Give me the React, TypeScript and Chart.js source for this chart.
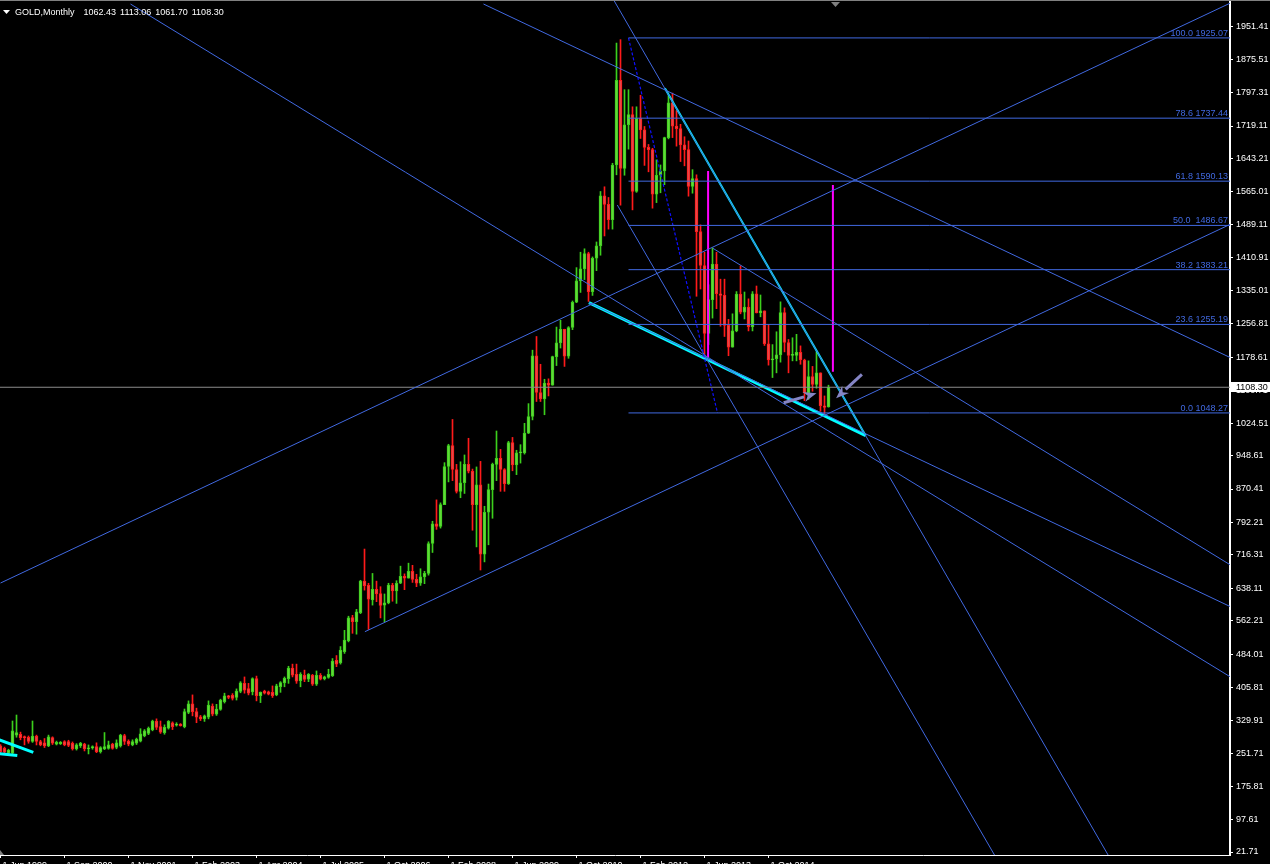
import React, { useEffect, useRef } from "react";
import { Chart, registerables } from "chart.js";

Chart.register(...registerables);

// ---------- data ----------
const symbolTitle = "GOLD,Monthly";

// [open, high, low, close] per monthly bar, bar index 0 = 1 Jun 1999
const candlesEarly: number[][] = [
  [270, 273, 252, 256], [264, 267, 252, 255], [253, 262, 250, 260], [253, 328, 251, 305],
  [295, 342, 290, 301], [297, 302, 284, 289], [291, 293, 272, 289], [290, 293, 276, 280],
  [280, 328, 278, 293], [293, 295, 272, 280], [280, 283, 270, 272], [277, 287, 266, 270],
  [270, 295, 268, 291], [289, 291, 273, 276], [274, 281, 272, 278], [275, 280, 273, 278],
  [280, 282, 270, 272], [280, 283, 268, 271], [276, 279, 260, 263], [263, 275, 260, 272],
  [270, 278, 266, 276], [274, 276, 258, 263], [263, 272, 251, 265], [265, 270, 262, 268],
  [268, 277, 254, 256], [256, 268, 253, 266], [263, 301, 261, 268], [264, 281, 262, 272],
  [274, 276, 262, 264], [266, 284, 263, 277], [270, 297, 267, 295], [294, 297, 273, 280],
  [281, 284, 270, 274], [272, 284, 270, 280], [276, 288, 273, 285], [281, 310, 279, 298],
  [293, 308, 291, 305], [299, 314, 296, 311], [307, 330, 305, 328], [328, 333, 308, 313],
  [315, 328, 299, 302], [301, 319, 297, 313], [311, 329, 309, 327], [324, 326, 308, 315],
  [318, 324, 316, 321], [321, 322, 316, 317], [315, 356, 312, 350], [348, 375, 345, 368],
  [368, 389, 340, 350], [350, 358, 324, 337], [338, 341, 329, 333], [333, 342, 327, 340],
  [337, 375, 333, 365], [363, 368, 340, 344], [344, 367, 341, 356], [355, 379, 353, 377],
  [373, 393, 370, 387], [387, 388, 380, 383], [388, 392, 377, 381], [383, 403, 377, 398],
  [397, 420, 394, 417], [416, 431, 393, 400], [404, 416, 389, 393], [396, 429, 389, 427],
  [427, 433, 375, 387], [387, 396, 371, 395], [398, 400, 391, 393], [396, 398, 389, 391],
  [395, 410, 383, 387], [389, 414, 387, 410], [408, 420, 395, 418], [417, 431, 408, 428],
  [427, 456, 416, 452], [452, 461, 431, 435], [437, 461, 416, 421], [422, 441, 408, 437],
  [435, 447, 420, 425], [426, 439, 420, 437], [435, 437, 411, 414], [414, 445, 411, 435],
  [435, 439, 424, 426], [427, 433, 424, 431], [430, 449, 428, 437], [434, 474, 432, 468],
  [470, 481, 455, 461], [464, 502, 461, 494], [490, 540, 486, 517], [516, 573, 513, 569],
  [570, 575, 533, 560], [560, 589, 531, 583], [581, 657, 579, 655], [655, 730, 634, 644],
  [645, 650, 542, 613], [611, 673, 599, 636], [636, 655, 607, 625], [626, 642, 569, 598],
];

// Oct 2006 .. Jan 2016
const candlesLate: number[][] = [
  [599, 625, 560, 604], [604, 650, 602, 646], [646, 650, 608, 632],
  [632, 656, 603, 650], [650, 690, 649, 666], [666, 672, 635, 662], [662, 697, 662, 678],
  [678, 692, 652, 659], [659, 671, 642, 650], [650, 684, 645, 665], [665, 678, 649, 673],
  [673, 747, 669, 743], [743, 795, 722, 789], [789, 845, 776, 783], [783, 838, 779, 834],
  [834, 932, 834, 923], [923, 975, 887, 972], [972, 1033, 890, 916], [916, 928, 861, 865],
  [865, 934, 850, 885], [885, 950, 860, 928], [928, 989, 908, 912], [912, 917, 774, 834],
  [834, 922, 735, 880], [880, 935, 681, 718], [718, 830, 700, 816], [816, 882, 740, 869],
  [869, 931, 802, 928], [928, 1006, 890, 942], [942, 963, 865, 916], [916, 918, 865, 883],
  [883, 982, 881, 979], [979, 991, 913, 927], [927, 961, 904, 955], [955, 974, 931, 955],
  [955, 1024, 952, 1001], [1001, 1070, 1000, 1040], [1040, 1195, 1032, 1182], [1182, 1227, 1075, 1096],
  [1096, 1162, 1075, 1081], [1081, 1127, 1044, 1118], [1118, 1128, 1088, 1113], [1113, 1181, 1113, 1180],
  [1180, 1249, 1159, 1212], [1212, 1265, 1200, 1244], [1244, 1244, 1157, 1181], [1181, 1250, 1176, 1248],
  [1248, 1310, 1243, 1307], [1307, 1388, 1306, 1357], [1357, 1424, 1330, 1385], [1385, 1432, 1360, 1421],
  [1421, 1424, 1309, 1332], [1332, 1413, 1323, 1410], [1410, 1448, 1381, 1439], [1439, 1566, 1417, 1556],
  [1556, 1577, 1462, 1536], [1536, 1552, 1478, 1500], [1500, 1632, 1478, 1628], [1628, 1913, 1605, 1826],
  [1826, 1921, 1534, 1620], [1620, 1804, 1604, 1722], [1722, 1804, 1665, 1746], [1746, 1764, 1523, 1566],
  [1566, 1764, 1564, 1737], [1737, 1791, 1690, 1710], [1710, 1718, 1627, 1669], [1669, 1676, 1612, 1664],
  [1664, 1667, 1527, 1560], [1560, 1640, 1540, 1604], [1604, 1628, 1563, 1614], [1614, 1693, 1582, 1692],
  [1692, 1790, 1689, 1773], [1773, 1796, 1692, 1719], [1719, 1755, 1672, 1713], [1713, 1723, 1636, 1675],
  [1675, 1694, 1626, 1664], [1664, 1684, 1555, 1578], [1578, 1617, 1562, 1596], [1596, 1605, 1321, 1472],
  [1472, 1488, 1338, 1393], [1393, 1424, 1180, 1234], [1234, 1348, 1208, 1313], [1313, 1434, 1270, 1396],
  [1396, 1424, 1292, 1327], [1327, 1361, 1251, 1323], [1323, 1361, 1227, 1253], [1253, 1267, 1182, 1202],
  [1202, 1280, 1202, 1240], [1240, 1332, 1238, 1326], [1326, 1392, 1280, 1284], [1284, 1331, 1268, 1296],
  [1296, 1315, 1240, 1250], [1250, 1332, 1240, 1327], [1327, 1345, 1282, 1282], [1282, 1324, 1273, 1287],
  [1287, 1287, 1206, 1210], [1210, 1255, 1160, 1172], [1172, 1208, 1131, 1175], [1175, 1238, 1142, 1184],
  [1184, 1308, 1167, 1283], [1283, 1294, 1191, 1213], [1213, 1220, 1142, 1183], [1183, 1224, 1170, 1183],
  [1183, 1232, 1170, 1190], [1190, 1205, 1162, 1172], [1172, 1174, 1077, 1095], [1095, 1170, 1080, 1133],
  [1133, 1157, 1099, 1115], [1115, 1191, 1106, 1142], [1142, 1142, 1052, 1065], [1065, 1088, 1046, 1061],
  [1062.43, 1113.06, 1061.7, 1108.3],
];

const xTickBars = [0, 16, 32, 48, 64, 80, 96, 112, 128, 144, 160, 176, 192];
const xTickLabels = [
  "1 Jun 1999", "1 Sep 2000", "1 Nov 2001", "1 Feb 2003", "1 Apr 2004", "1 Jul 2005",
  "1 Oct 2006", "1 Feb 2008", "1 Jun 2009", "1 Oct 2010", "1 Feb 2012", "1 Jun 2013", "1 Oct 2014",
];

const priceTicks = [
  1951.41, 1875.51, 1797.31, 1719.11, 1643.21, 1565.01, 1489.11, 1410.91, 1335.01, 1256.81,
  1178.61, 1100.71, 1024.51, 948.61, 870.41, 792.21, 716.31, 638.11, 562.21, 484.01, 405.81,
  329.91, 251.71, 175.81, 97.61, 21.71,
];

// Fibonacci retracement
const fibStartBar = 157;
const fibEndBar = 179.25;
const fibLevels = [1925.07, 1737.44, 1590.13, 1486.67, 1383.21, 1255.19, 1048.27];
const fibLabels = ["100.0 1925.07", "78.6 1737.44", "61.8 1590.13", "50.0  1486.67", "38.2 1383.21", "23.6 1255.19", "0.0 1048.27"];

// trend lines as [barIndex, price] pairs
const blueTrendLines: number[][][] = [
  [[0, 650.6], [307.5, 2006.7]],
  [[91.1, 536.8], [307.5, 1489.5]],
  [[32.5, 2004.3], [307.5, 430.9]],
  [[120.75, 2004.3], [307.5, 1177.4]],
  [[178.1, 1433.2], [307.5, 692.7]],
  [[147.1, 1306.0], [307.5, 595.2]],
  [[153.3, 2013.7], [276.9, 14.7]],
  [[154.2, 1534.4], [248.5, 14.7]],
];
const wedgeUpper: number[][] = [[166.1, 1807.3], [216.3, 995.0]];
const wedgeLower: number[][] = [[147.1, 1306.0], [216.3, 995.0]];
const oldWedgeLines: number[][][] = [
  [[-1, 286.5], [8.2, 254.8]],
  [[-1, 252.5], [4.2, 247.3]],
];
const targetLines: number[][][] = [
  [[176.9, 1613.9], [176.9, 1177.4]],
  [[208.1, 1581.2], [208.1, 1144.6]],
];
const arrows: number[][][] = [
  [[195.8, 1072.2], [204.0, 1094.2]],
  [[215.35, 1138.6], [208.9, 1082.5]],
];

// ---------- styles ----------
const FONT = "Liberation Sans";
const BLUE = "#4169e1";
const CYAN = "#00ffff";
const MAGENTA = "#ff00ff";
const ARROW = "#8585c5";
const PRICE_LINE = "#8c8c8c";
const BULL_FILL = "#62d83a";
const BULL_EDGE = "#3ccf1c";
const BEAR_FILL = "#e44848";
const BEAR_EDGE = "#ff1a1a";

const X_MIN = -0.125;
const X_MAX = X_MIN + 1230 / 4;
const Y_MIN = 14.7;
const Y_MAX = 2013.7;

const candles = [...candlesEarly, ...candlesLate];
const lastBar = candles[candles.length - 1];

function lineDataset(pts: number[][], color: string, width: number, extra: any = {}) {
  return {
    type: "line" as const,
    data: pts.map(([x, y]) => ({ x, y })),
    borderColor: color,
    borderWidth: width,
    pointRadius: 0,
    fill: false,
    tension: 0,
    order: 0,
    ...extra,
  };
}

const overlayPlugin = {
  id: "overlay",
  beforeDraw(chart: any) {
    const { ctx } = chart;
    ctx.save();
    ctx.fillStyle = "#000";
    ctx.fillRect(0, 0, chart.width, chart.height);
    ctx.restore();
  },
  afterDraw(chart: any) {
    const { ctx, chartArea } = chart;
    const xs = chart.scales.x;
    const ys = chart.scales.y;
    ctx.save();
    ctx.font = `9px "${FONT}"`;

    // fib labels
    ctx.fillStyle = BLUE;
    ctx.textAlign = "right";
    ctx.textBaseline = "alphabetic";
    fibLevels.forEach((lv, k) => {
      ctx.fillText(fibLabels[k], chartArea.right - 2, ys.getPixelForValue(lv) - 2);
    });

    // arrows
    arrows.forEach(([[x1, p1], [x2, p2]]) => {
      const ax = xs.getPixelForValue(x1);
      const ay = ys.getPixelForValue(p1);
      const bx = xs.getPixelForValue(x2);
      const by = ys.getPixelForValue(p2);
      const ang = Math.atan2(by - ay, bx - ax);
      const c = Math.cos(ang);
      const s = Math.sin(ang);
      const hl = 13;
      const hw = 5;
      ctx.strokeStyle = ARROW;
      ctx.fillStyle = ARROW;
      ctx.lineWidth = 3;
      ctx.beginPath();
      ctx.moveTo(ax, ay);
      ctx.lineTo(bx - hl * c, by - hl * s);
      ctx.stroke();
      ctx.beginPath();
      ctx.moveTo(bx, by);
      ctx.lineTo(bx - hl * c + hw * s, by - hl * s - hw * c);
      ctx.lineTo(bx - (hl - 4) * c, by - (hl - 4) * s);
      ctx.lineTo(bx - hl * c - hw * s, by - hl * s + hw * c);
      ctx.closePath();
      ctx.fill();
    });

    // current price box
    const py = ys.getPixelForValue(lastBar[3]);
    ctx.fillStyle = "#fff";
    ctx.fillRect(chartArea.right + 1, Math.round(py) - 5, chart.width - chartArea.right - 1, 10);
    ctx.fillStyle = "#000";
    ctx.textAlign = "left";
    ctx.textBaseline = "middle";
    ctx.fillText(lastBar[3].toFixed(2), chartArea.right + 6, py + 0.5);

    // top border and chart shift marker
    ctx.fillStyle = "#808080";
    ctx.fillRect(0, 0, chart.width, 1);
    ctx.beginPath();
    ctx.moveTo(831, 2);
    ctx.lineTo(840, 2);
    ctx.lineTo(835.5, 7);
    ctx.closePath();
    ctx.fill();
    ctx.beginPath();
    ctx.moveTo(0, 850);
    ctx.lineTo(4, 855);
    ctx.lineTo(0, 855);
    ctx.closePath();
    ctx.fill();

    // header
    ctx.fillStyle = "#fff";
    ctx.beginPath();
    ctx.moveTo(3, 10);
    ctx.lineTo(10, 10);
    ctx.lineTo(6.5, 14);
    ctx.closePath();
    ctx.fill();
    ctx.textAlign = "left";
    ctx.textBaseline = "alphabetic";
    ctx.fillText(symbolTitle, 15, 15);
    let hx = 15 + ctx.measureText(symbolTitle).width + 9;
    lastBar.forEach((v) => {
      const t = v.toFixed(2);
      ctx.fillText(t, hx, 15);
      hx += ctx.measureText(t).width + 4;
    });
    ctx.restore();
  },
};

export default function App() {
  const ref = useRef<HTMLCanvasElement>(null);

  useEffect(() => {
    document.body.style.margin = "0";
    document.body.style.background = "#000";
    document.body.style.overflow = "hidden";
    const canvas = ref.current;
    if (!canvas) return;

    const bull = candles.map((c) => c[3] >= c[0]);

    const datasets: any[] = [];
    // lines (drawn on top)
    fibLevels.forEach((lv) => {
      datasets.push(lineDataset([[fibStartBar, lv], [X_MAX + 1, lv]], BLUE, 1));
    });
    datasets.push(lineDataset([[fibStartBar, fibLevels[0]], [fibEndBar, fibLevels[fibLevels.length - 1]]], "#1010ff", 1.2, { borderDash: [3, 2] }));
    blueTrendLines.forEach((l) => datasets.push(lineDataset(l, BLUE, 1)));
    datasets.push(lineDataset([[X_MIN - 1, lastBar[3]], [X_MAX + 1, lastBar[3]]], PRICE_LINE, 1));
    datasets.push(lineDataset(wedgeUpper, CYAN, 2));
    datasets.push(lineDataset(wedgeLower, CYAN, 3));
    oldWedgeLines.forEach((l) => datasets.push(lineDataset(l, CYAN, 3)));
    targetLines.forEach((l) => datasets.push(lineDataset(l, MAGENTA, 2)));

    // candles
    datasets.push({
      type: "bar",
      data: candles.map((c, i) => ({ x: i, y: [c[2], c[1]] })),
      backgroundColor: bull.map((b) => (b ? BULL_EDGE : BEAR_EDGE)),
      barThickness: 1,
      grouped: false,
      minBarLength: 1,
      order: 21,
    });
    datasets.push({
      type: "bar",
      data: candles.map((c, i) => ({ x: i, y: [c[0], c[3]] })),
      backgroundColor: bull.map((b) => (b ? BULL_FILL : BEAR_FILL)),
      borderColor: bull.map((b) => (b ? BULL_EDGE : BEAR_EDGE)),
      borderWidth: 1,
      borderSkipped: false,
      barThickness: 3,
      grouped: false,
      minBarLength: 1,
      order: 20,
    });

    const chart = new Chart(canvas, {
      type: "bar",
      data: { datasets },
      options: {
        responsive: false,
        maintainAspectRatio: false,
        animation: false,
        events: [],
        layout: { padding: 0, autoPadding: false } as any,
        plugins: {
          legend: { display: false },
          tooltip: { enabled: false },
          title: { display: false },
        },
        scales: {
          x: {
            type: "linear",
            position: "bottom",
            min: X_MIN,
            max: X_MAX,
            offset: false,
            grid: { display: true, drawOnChartArea: false, drawTicks: true, tickLength: 3, color: "#ffffff", offset: false },
            border: { display: true, color: "#ffffff", width: 1 },
            ticks: {
              color: "#ffffff",
              font: { family: FONT, size: 9 },
              autoSkip: false,
              maxRotation: 0,
              minRotation: 0,
              align: "start",
              labelOffset: 2,
              padding: 2,
              callback: (v: any) => {
                const k = xTickBars.indexOf(Number(v));
                return k >= 0 ? xTickLabels[k] : "";
              },
            },
            afterBuildTicks: (s: any) => {
              s.ticks = xTickBars.map((v) => ({ value: v }));
            },
            afterFit: (s: any) => {
              s.height = 9;
              s.paddingLeft = 0;
              s.paddingRight = 0;
            },
          } as any,
          y: {
            type: "linear",
            position: "right",
            min: Y_MIN,
            max: Y_MAX,
            grid: { display: true, drawOnChartArea: false, drawTicks: true, tickLength: 3, color: "#ffffff" },
            border: { display: true, color: "#ffffff", width: 2 },
            ticks: {
              color: "#ffffff",
              font: { family: FONT, size: 9 },
              autoSkip: false,
              padding: 3,
              callback: (v: any) => Number(v).toFixed(2),
            },
            afterBuildTicks: (s: any) => {
              s.ticks = priceTicks.map((v) => ({ value: v }));
            },
            afterFit: (s: any) => {
              s.width = 40;
              s.paddingTop = 0;
              s.paddingBottom = 0;
            },
          } as any,
        },
      },
      plugins: [overlayPlugin],
    } as any);

    return () => chart.destroy();
  }, []);

  return (
    <canvas
      ref={ref}
      width={1270}
      height={864}
      style={{ display: "block", width: 1270, height: 864 }}
    />
  );
}
